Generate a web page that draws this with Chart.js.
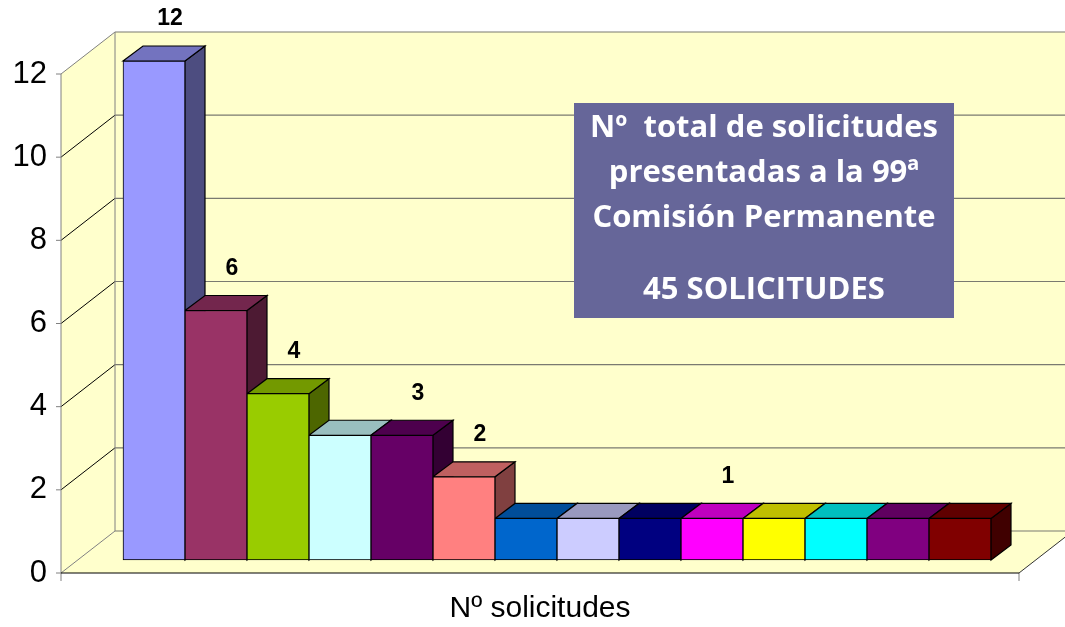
<!DOCTYPE html>
<html>
<head>
<meta charset="utf-8">
<script src="https://cdn.jsdelivr.net/npm/chart.js@4.4.1/dist/chart.umd.min.js"></script>
<style>
  html, body { margin: 0; padding: 0; background: #fff; overflow: hidden; }
  canvas { display: block; }
</style>
</head>
<body>
<canvas id="chart" width="1065" height="627"></canvas>
<script>
const categories = ['1', '2', '3', '4', '5', '6', '7', '8', '9', '10', '11', '12', '13', '14'];
const values = [12, 6, 4, 3, 3, 2, 1, 1, 1, 1, 1, 1, 1, 1];
const valueLabels = ['12', '6', '4', '', '3', '2', '', '', '', '1', '', '', '', ''];
const barColors = ['#9999FF', '#993366', '#99CC00', '#CCFFFF', '#660066', '#FF8080', '#0066CC',
                   '#CCCCFF', '#000080', '#FF00FF', '#FFFF00', '#00FFFF', '#800080', '#800000'];
const yTicks = [0, 2, 4, 6, 8, 10, 12];
const axisTitle = 'Nº solicitudes';
const boxLines = ['Nº  total de solicitudes', 'presentadas a la 99ª', 'Comisión Permanente', '', '45 SOLICITUDES'];

// 3D look
const wallDepth = { x: 54, y: -42 };   // front plane -> back wall
const barShift = { x: 17, y: -13 };    // front plane -> bar front faces
const barDepth = { x: 20, y: -15 };
const sideMargin = 45;

function shade(hex, f) {
  const n = parseInt(hex.slice(1), 16);
  const r = Math.round(((n >> 16) & 255) * f);
  const g = Math.round(((n >> 8) & 255) * f);
  const b = Math.round((n & 255) * f);
  return 'rgb(' + r + ',' + g + ',' + b + ')';
}

function poly(ctx, pts, fill, stroke, lw) {
  ctx.beginPath();
  ctx.moveTo(pts[0][0], pts[0][1]);
  for (let i = 1; i < pts.length; i++) ctx.lineTo(pts[i][0], pts[i][1]);
  ctx.closePath();
  if (fill) { ctx.fillStyle = fill; ctx.fill(); }
  if (stroke) { ctx.strokeStyle = stroke; ctx.lineWidth = lw || 1; ctx.stroke(); }
}

function line(ctx, x1, y1, x2, y2, color, lw) {
  ctx.beginPath();
  ctx.moveTo(x1, y1);
  ctx.lineTo(x2, y2);
  ctx.strokeStyle = color;
  ctx.lineWidth = lw || 1;
  ctx.stroke();
}

const box3d = {
  id: 'box3d',
  beforeDatasetsDraw(chart) {
    const ctx = chart.ctx;
    const a = chart.chartArea;
    const ys = chart.scales.y;
    const fl = a.left - sideMargin, fr = a.right + sideMargin;
    const yTop = ys.getPixelForValue(yTicks[yTicks.length - 1]);
    const y0 = ys.getPixelForValue(0);
    const dx = wallDepth.x, dy = wallDepth.y;
    const wall = '#FFFFCC';

    ctx.save();
    // floor, left wall, back wall
    poly(ctx, [[fl, y0], [fr, y0], [fr + dx, y0 + dy], [fl + dx, y0 + dy]], wall);
    poly(ctx, [[fl, yTop], [fl + dx, yTop + dy], [fl + dx, y0 + dy], [fl, y0]], wall);
    poly(ctx, [[fl + dx, yTop + dy], [fr + dx, yTop + dy], [fr + dx, y0 + dy], [fl + dx, y0 + dy]], wall);

    // grid lines on both walls
    yTicks.forEach(v => {
      const y = ys.getPixelForValue(v);
      const edge = (v === 0 || v === yTicks[yTicks.length - 1]);
      line(ctx, fl, y, fl + dx, y + dy, edge ? '#808080' : '#000', 1);
      line(ctx, fl + dx, y + dy, fr + dx, y + dy, '#7a7a70', 1.2);
      line(ctx, fl - 5, y, fl, y, '#808080', 1);
    });
    line(ctx, fl + dx, yTop + dy, fl + dx, y0 + dy, '#808080', 1);
    line(ctx, fl, yTop, fl, y0 + 8, '#808080', 1);
    line(ctx, fr, y0, fr, y0 + 8, '#808080', 1);
    line(ctx, fl, y0, fr, y0, '#000', 1);
    line(ctx, fr, y0, fr + dx, y0 + dy, '#333', 1);

    // top and side faces of the bars, behind the front faces
    const meta = chart.getDatasetMeta(0);
    meta.data.forEach((bar, i) => {
      const p = bar.getProps(['x', 'y', 'base', 'width'], true);
      const l = p.x - p.width / 2 + barShift.x;
      const r = p.x + p.width / 2 + barShift.x;
      const t = p.y + barShift.y;
      const b = p.base + barShift.y;
      const bx = barDepth.x, by = barDepth.y;
      poly(ctx, [[r, t], [r + bx, t + by], [r + bx, b + by], [r, b]], shade(barColors[i], 0.5), '#000', 1.2);
      poly(ctx, [[l, t], [l + bx, t + by], [r + bx, t + by], [r, t]], shade(barColors[i], 0.75), '#000', 1.2);
    });
    ctx.restore();
  },
  beforeDatasetDraw(chart) {
    chart.ctx.save();
    chart.ctx.translate(barShift.x, barShift.y);
  },
  afterDatasetDraw(chart) {
    chart.ctx.restore();
  },
  afterDatasetsDraw(chart) {
    const ctx = chart.ctx;
    const meta = chart.getDatasetMeta(0);
    ctx.save();
    ctx.fillStyle = '#000';
    ctx.font = 'bold 23px "Liberation Sans", Arial, sans-serif';
    ctx.textAlign = 'center';
    ctx.textBaseline = 'middle';
    meta.data.forEach((bar, i) => {
      if (!valueLabels[i]) return;
      const p = bar.getProps(['x', 'y'], true);
      ctx.fillText(valueLabels[i], p.x + barShift.x + 16, p.y + barShift.y + barDepth.y - 27);
    });
    ctx.restore();
  },
  afterDraw(chart) {
    const ctx = chart.ctx;
    const bx = 574, by = 103, bw = 380, bh = 215;
    ctx.save();
    ctx.fillStyle = '#666699';
    ctx.fillRect(bx, by, bw, bh);
    ctx.fillStyle = '#fff';
    ctx.font = 'bold 31px "Open Sans", Lato, sans-serif';
    ctx.textAlign = 'center';
    ctx.textBaseline = 'middle';
    const lineY = [128, 173, 218, 254, 290];
    boxLines.forEach((s, i) => {
      if (s) ctx.fillText(s, bx + bw / 2, lineY[i]);
    });
    ctx.restore();
  }
};

new Chart(document.getElementById('chart'), {
  type: 'bar',
  data: {
    labels: categories,
    datasets: [{
      data: values,
      backgroundColor: barColors,
      borderColor: '#000',
      borderWidth: 1,
      borderSkipped: false,
      categoryPercentage: 1,
      barPercentage: 1,
      clip: false
    }]
  },
  options: {
    responsive: false,
    devicePixelRatio: 1,
    animation: false,
    layout: { padding: { top: 74, right: 91, bottom: 0, left: 0 } },
    plugins: {
      legend: { display: false },
      tooltip: { enabled: false }
    },
    scales: {
      x: {
        ticks: { display: false },
        grid: { display: false, drawTicks: false },
        border: { display: false },
        title: {
          display: true,
          text: axisTitle,
          color: '#000',
          font: { family: '"Liberation Sans", Arial, sans-serif', size: 30 },
          padding: { top: 0, bottom: 0 }
        },
        afterFit: s => { s.height = 54; }
      },
      y: {
        min: 0,
        max: 12,
        afterBuildTicks: s => { s.ticks = yTicks.map(v => ({ value: v })); },
        ticks: {
          color: '#000',
          padding: 59,
          font: { family: '"Liberation Sans", Arial, sans-serif', size: 31 }
        },
        grid: { display: false, drawTicks: false },
        border: { display: false },
        afterFit: s => { s.width = 106; s.paddingTop = 0; s.paddingBottom = 0; }
      }
    }
  },
  plugins: [box3d]
});
</script>
</body>
</html>
